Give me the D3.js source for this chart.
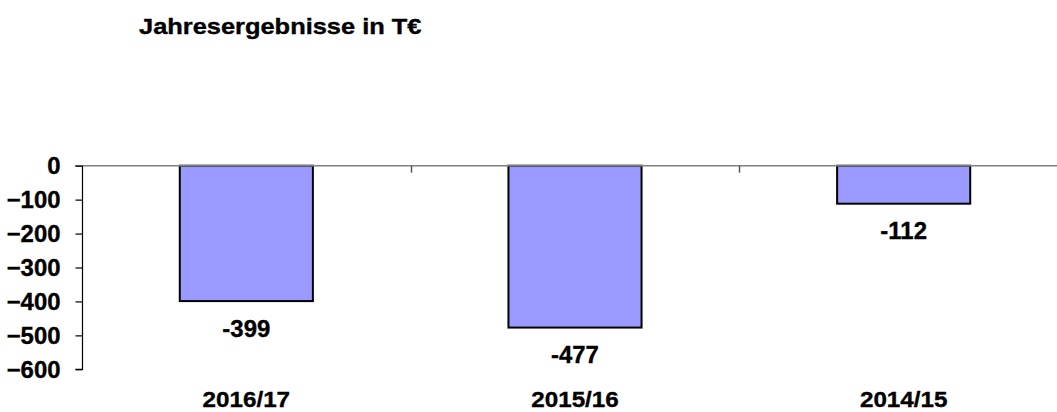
<!DOCTYPE html>
<html>
<head>
<meta charset="utf-8">
<script src="https://cdn.jsdelivr.net/npm/d3@7"></script>
<style>
  html, body { margin: 0; padding: 0; background: #fff; }
  svg { display: block; font-family: "Liberation Sans", Arial, sans-serif; font-weight: bold; }
</style>
</head>
<body>
<svg id="chart" width="1057" height="412"></svg>
<script>
// Annual results (thousand euros) per fiscal year
const years = ["2016/17", "2015/16", "2014/15"];
const results = [-399, -477, -112];
const yTicks = [0, -100, -200, -300, -400, -500, -600];
const title = "Jahresergebnisse in T€";

const svg = d3.select("#chart");

const x = d3.scaleBand()
  .domain(years)
  .range([82, 1068])
  .paddingInner(0)
  .paddingOuter(0);

const y = d3.scaleLinear()
  .domain([-600, 0])
  .range([369.3, 165.7]);

const barW = x.bandwidth() * 0.405;

// Widen glyphs slightly (wide, heavy label face)
function widen(sel, factor) {
  sel.each(function () {
    const w = this.getComputedTextLength();
    d3.select(this)
      .attr("textLength", w * factor)
      .attr("lengthAdjust", "spacingAndGlyphs");
  });
}

function heavy(sel) {
  sel.attr("stroke", "#000").attr("stroke-width", 0.35).attr("paint-order", "stroke");
}

// Title
svg.append("text")
  .attr("x", 139)
  .attr("y", 34)
  .attr("font-size", 22)
  .attr("fill", "#000")
  .text(title)
  .call(widen, 1.155)
  .call(heavy);

// Bars
svg.selectAll("rect.bar")
  .data(years.map((c, i) => ({ c, v: results[i] })))
  .join("rect")
  .attr("class", "bar")
  .attr("x", d => x(d.c) + x.bandwidth() / 2 - barW / 2)
  .attr("y", d => y(0))
  .attr("width", barW)
  .attr("height", d => y(d.v) - y(0))
  .attr("fill", "#9999FF")
  .attr("stroke", "#000")
  .attr("stroke-width", 2);

// Zero line (category axis)
svg.append("line")
  .attr("x1", 75).attr("x2", 1068)
  .attr("y1", y(0)).attr("y2", y(0))
  .attr("stroke", "#808080")
  .attr("stroke-width", 1.5);

// Category separators below the zero line
svg.selectAll("line.sep")
  .data(years.slice(1))
  .join("line")
  .attr("class", "sep")
  .attr("x1", d => Math.round(x(d)) + 0.5)
  .attr("x2", d => Math.round(x(d)) + 0.5)
  .attr("y1", y(0))
  .attr("y2", y(0) + 7)
  .attr("stroke", "#555")
  .attr("stroke-width", 1.5);

// Value axis
const yAxis = d3.axisLeft(y)
  .tickValues(yTicks)
  .tickSize(7)
  .tickPadding(15)
  .tickFormat(d3.format("d"));

const gy = svg.append("g")
  .attr("transform", "translate(82.5,0)")
  .call(yAxis);
gy.select(".domain").attr("stroke", "#000").attr("stroke-width", 1.2)
  .attr("d", `M-7,${y(-600)}H0V${y(0)}`);
gy.selectAll(".tick line").attr("stroke", "#000").attr("stroke-width", 1.2);
gy.selectAll(".tick text")
  .attr("font-size", 23)
  .attr("font-family", "Liberation Sans, Arial, sans-serif")
  .attr("font-weight", "bold")
  .attr("fill", "#000")
  .attr("dy", "0.34em")
  .call(widen, 1.04)
  .call(heavy);

// Value labels below each bar
svg.selectAll("text.val")
  .data(years.map((c, i) => ({ c, v: results[i] })))
  .join("text")
  .attr("class", "val")
  .attr("x", d => x(d.c) + x.bandwidth() / 2)
  .attr("y", d => y(d.v) + 35.6)
  .attr("text-anchor", "middle")
  .attr("font-size", 23)
  .attr("fill", "#000")
  .text(d => d.v)
  .call(widen, 1.04)
  .call(heavy);

// Category labels
svg.selectAll("text.cat")
  .data(years)
  .join("text")
  .attr("class", "cat")
  .attr("x", d => x(d) + x.bandwidth() / 2)
  .attr("y", 406.5)
  .attr("text-anchor", "middle")
  .attr("font-size", 22)
  .attr("fill", "#000")
  .text(d => d)
  .call(widen, 1.1)
  .call(heavy);
</script>
</body>
</html>
